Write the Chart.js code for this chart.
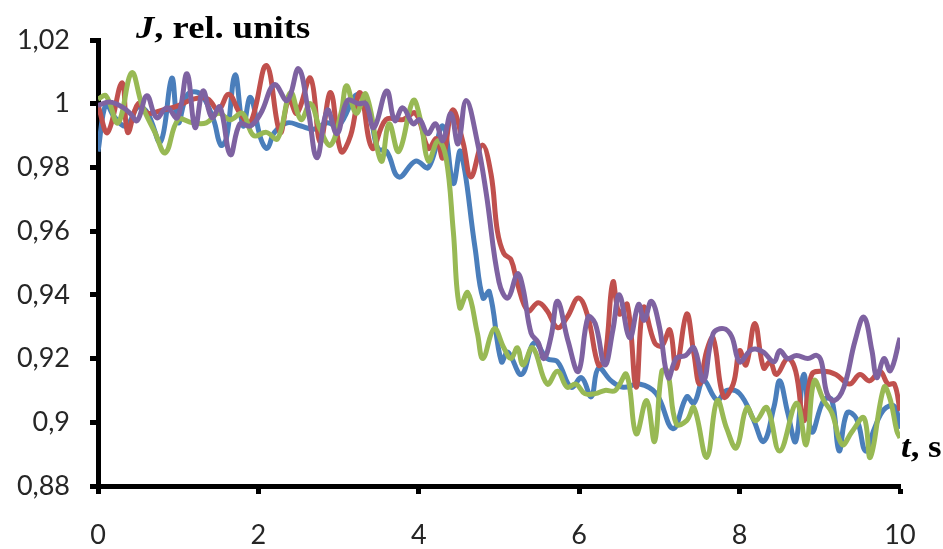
<!DOCTYPE html>
<html>
<head>
<meta charset="utf-8">
<script src="https://cdn.jsdelivr.net/npm/chart.js@4.4.1/dist/chart.umd.min.js"></script>
<style>
  html, body { margin: 0; padding: 0; background: #fff; }
  #wrap { position: relative; width: 943px; height: 549px; overflow: hidden; }
  .axisName {
    position: absolute;
    font-family: "Liberation Serif", serif;
    font-weight: bold;
    font-size: 31px;
    line-height: 31px;
    color: #000;
    white-space: nowrap;
    transform: scaleX(1.18);
    transform-origin: 0 0;
  }
  #yName { left: 136px; top: 12px; }
  #xName { left: 901px; top: 431px; transform: scaleX(1.12); }
</style>
</head>
<body>
<div id="wrap">
  <canvas id="chart" width="943" height="549"></canvas>
  <div class="axisName" id="yName"><i>J</i>, rel. units</div>
  <div class="axisName" id="xName"><i>t</i>, s</div>
</div>
<script>
// J(t) curves, [time in s, relative units]
const blueCurve = [
  [0, 0.985], [0.1, 1.0], [0.2, 0.996], [0.35, 0.993], [0.5, 0.999], [0.62, 0.997], [0.78, 0.988],
  [0.92, 1.008], [1.0, 0.994], [1.12, 1.003], [1.28, 1.003], [1.44, 0.995], [1.53, 0.987], [1.6, 0.989],
  [1.71, 1.009], [1.81, 0.993], [1.9, 1.002], [2.03, 0.989], [2.11, 0.986], [2.2, 0.991], [2.36, 0.994],
  [2.53, 0.993], [2.69, 0.992], [2.86, 0.994], [3.0, 0.993], [3.24, 1.003], [3.4, 0.995], [3.49, 0.986],
  [3.6, 0.985], [3.75, 0.977], [3.96, 0.982], [4.12, 0.980], [4.3, 0.993], [4.43, 0.975], [4.52, 0.985],
  [4.7, 0.955], [4.8, 0.939], [4.88, 0.941], [5.03, 0.919], [5.11, 0.922], [5.28, 0.915], [5.44, 0.925],
  [5.6, 0.920], [5.73, 0.919], [5.9, 0.911], [6.03, 0.914], [6.15, 0.908], [6.24, 0.917], [6.4, 0.913],
  [6.55, 0.911], [6.75, 0.912], [6.96, 0.909], [7.17, 0.898], [7.34, 0.908], [7.43, 0.906], [7.55, 0.913],
  [7.72, 0.907], [7.84, 0.910], [8.0, 0.909], [8.17, 0.901], [8.3, 0.894], [8.43, 0.905], [8.5, 0.913],
  [8.6, 0.903], [8.7, 0.894], [8.8, 0.915], [8.9, 0.897], [9.05, 0.907], [9.15, 0.907], [9.24, 0.891],
  [9.34, 0.903], [9.46, 0.901], [9.57, 0.891], [9.68, 0.898], [9.8, 0.904], [9.93, 0.905], [10, 0.898]
];

const redCurve = [
  [0, 0.9995], [0.12, 0.991], [0.3, 1.0066], [0.37, 0.991], [0.5, 1.0], [0.62, 0.997], [0.8, 0.998],
  [0.96, 0.999], [1.2, 1.0015], [1.37, 1.0015], [1.5, 0.998], [1.63, 1.003], [1.77, 0.997], [1.9, 0.994],
  [2.1, 1.012], [2.27, 0.991], [2.38, 1.0015], [2.48, 0.997], [2.65, 1.008], [2.77, 0.988], [2.9, 1.0035],
  [3.03, 0.985], [3.15, 0.990], [3.27, 1.0035], [3.42, 0.986], [3.59, 0.995], [3.8, 0.995], [3.96, 0.997],
  [4.12, 0.986], [4.22, 0.989], [4.3, 0.983], [4.42, 0.998], [4.55, 0.988], [4.65, 0.977], [4.79, 0.987],
  [4.9, 0.978], [4.98, 0.960], [5.06, 0.953], [5.15, 0.951], [5.23, 0.9435], [5.36, 0.935], [5.49, 0.9375],
  [5.6, 0.935], [5.73, 0.9297], [5.85, 0.933], [5.99, 0.939], [6.11, 0.933], [6.24, 0.918], [6.32, 0.920],
  [6.42, 0.944], [6.5, 0.934], [6.6, 0.937], [6.71, 0.911], [6.8, 0.936], [6.94, 0.925], [7.03, 0.924],
  [7.13, 0.929], [7.21, 0.917], [7.34, 0.934], [7.43, 0.9215], [7.5, 0.912], [7.59, 0.9225], [7.67, 0.9265],
  [7.8, 0.908], [7.92, 0.912], [8.0, 0.9225], [8.08, 0.918], [8.19, 0.931], [8.3, 0.917], [8.38, 0.919],
  [8.46, 0.915], [8.6, 0.920], [8.7, 0.916], [8.8, 0.9005], [8.9, 0.915], [9.05, 0.916], [9.2, 0.915],
  [9.37, 0.912], [9.5, 0.915], [9.62, 0.913], [9.75, 0.916], [9.85, 0.912], [9.93, 0.912], [10, 0.9036]
];

const greenCurve = [
  [0, 1.0015], [0.1, 1.0025], [0.25, 0.994], [0.42, 1.0097], [0.55, 0.9995], [0.71, 0.991], [0.84, 0.9846],
  [1.0, 0.995], [1.18, 0.994], [1.35, 0.994], [1.5, 0.997], [1.65, 0.995], [1.8, 0.997], [1.94, 0.990],
  [2.1, 0.991], [2.24, 0.989], [2.4, 1.0035], [2.53, 0.995], [2.65, 1.0], [2.77, 0.992], [2.9, 0.987],
  [3.03, 0.997], [3.1, 1.0056], [3.22, 0.997], [3.34, 1.003], [3.53, 0.982], [3.63, 0.9937], [3.75, 0.985],
  [3.93, 1.001], [4.02, 0.995], [4.12, 0.982], [4.24, 0.9884], [4.34, 0.983], [4.43, 0.960], [4.51, 0.936],
  [4.61, 0.9407], [4.73, 0.928], [4.8, 0.920], [4.94, 0.9294], [5.06, 0.9234], [5.15, 0.920], [5.23, 0.9234],
  [5.3, 0.918], [5.42, 0.9234], [5.6, 0.912], [5.73, 0.916], [5.85, 0.911], [5.96, 0.912], [6.07, 0.909],
  [6.2, 0.909], [6.32, 0.910], [6.45, 0.910], [6.59, 0.915], [6.71, 0.8964], [6.84, 0.9068], [6.94, 0.894],
  [7.03, 0.916], [7.1, 0.916], [7.21, 0.8995], [7.34, 0.9005], [7.43, 0.9046], [7.59, 0.889], [7.72, 0.9068],
  [7.84, 0.898], [7.96, 0.892], [8.09, 0.9046], [8.2, 0.9005], [8.34, 0.9046], [8.5, 0.891], [8.71, 0.906],
  [8.83, 0.893], [8.93, 0.913], [9.05, 0.9068], [9.15, 0.903], [9.28, 0.893], [9.4, 0.897], [9.55, 0.9014],
  [9.63, 0.889], [9.8, 0.911], [9.88, 0.907], [9.96, 0.8973], [10, 0.8951]
];

const purpleCurve = [
  [0, 0.9995], [0.15, 1.0005], [0.3, 0.999], [0.4, 0.997], [0.49, 0.9947], [0.61, 1.0025], [0.73, 0.9956],
  [0.86, 0.9987], [0.99, 0.9956], [1.11, 1.0094], [1.21, 0.9925], [1.31, 1.004], [1.42, 0.9956], [1.52, 0.999],
  [1.65, 0.984], [1.77, 0.9937], [1.9, 0.993], [2.03, 0.997], [2.2, 1.006], [2.36, 1.001], [2.5, 1.011],
  [2.62, 0.998], [2.73, 0.983], [2.86, 0.998], [2.98, 0.9906], [3.11, 1.001], [3.25, 1.0], [3.34, 1.0],
  [3.44, 0.9925], [3.6, 1.004], [3.7, 0.9947], [3.8, 0.9987], [3.93, 0.9937], [4.01, 0.995], [4.11, 0.9906],
  [4.21, 0.9937], [4.3, 0.9884], [4.4, 0.9969], [4.49, 0.9874], [4.59, 1.001], [4.73, 0.988], [4.84, 0.972],
  [5.0, 0.944], [5.11, 0.939], [5.23, 0.9466], [5.3, 0.942], [5.4, 0.928], [5.49, 0.925], [5.56, 0.920],
  [5.65, 0.927], [5.73, 0.938], [5.86, 0.9256], [5.99, 0.916], [6.11, 0.933], [6.2, 0.931], [6.32, 0.918],
  [6.42, 0.929], [6.5, 0.940], [6.63, 0.9265], [6.74, 0.937], [6.81, 0.932], [6.9, 0.938], [7.0, 0.930],
  [7.11, 0.914], [7.21, 0.920], [7.33, 0.921], [7.43, 0.9234], [7.55, 0.913], [7.67, 0.9278], [7.8, 0.9294],
  [7.9, 0.927], [8.0, 0.919], [8.13, 0.9225], [8.2, 0.923], [8.3, 0.922], [8.43, 0.919], [8.5, 0.9225],
  [8.6, 0.920], [8.71, 0.921], [8.85, 0.920], [8.96, 0.921], [9.02, 0.919], [9.09, 0.909], [9.18, 0.9068],
  [9.3, 0.911], [9.44, 0.9256], [9.55, 0.933], [9.65, 0.9225], [9.71, 0.914], [9.8, 0.920], [9.88, 0.9162],
  [10, 0.9265]
];

// axis ranges and tick steps
const tRange = [0, 10];
const tStep = 2;
const jRange = [0.88, 1.02];
const jStep = 0.02;

// first entry is drawn on top
const curves = [
  { points: purpleCurve, color: '#7e62a1' },
  { points: greenCurve, color: '#98b954' },
  { points: redCurve, color: '#c0504d' },
  { points: blueCurve, color: '#4a7ebb' }
];

// decimal comma, no trailing zeros: 1, 0,9, 0,98
const commaLabel = v => String(Math.round(v * 100) / 100).replace('.', ',');

const tickFont = { family: 'Lato', size: 27 };

new Chart(document.getElementById('chart'), {
  type: 'line',
  data: {
    datasets: curves.map(c => ({
      data: c.points.map(([t, j]) => ({ x: t, y: j })),
      borderColor: c.color,
      borderWidth: 5,
      pointRadius: 0,
      tension: 0.4,
      fill: false
    }))
  },
  options: {
    responsive: false,
    animation: false,
    devicePixelRatio: 1,
    layout: { padding: { top: 40, right: 43, left: 0, bottom: 0 } },
    plugins: {
      legend: { display: false },
      tooltip: { enabled: false }
    },
    scales: {
      x: {
        type: 'linear',
        min: tRange[0],
        max: tRange[1],
        ticks: {
          stepSize: tStep,
          color: '#262626',
          font: tickFont,
          padding: 25,
          maxRotation: 0,
          callback: commaLabel
        },
        grid: { drawOnChartArea: false, tickLength: 8, tickWidth: 5, tickColor: '#000' },
        border: { color: '#000', width: 5 },
        afterFit: s => { s.height = 63; }
      },
      y: {
        min: jRange[0],
        max: jRange[1],
        ticks: {
          stepSize: jStep,
          color: '#262626',
          font: tickFont,
          padding: 20,
          callback: commaLabel
        },
        grid: { drawOnChartArea: false, tickLength: 8, tickWidth: 5, tickColor: '#000' },
        border: { color: '#000', width: 5 },
        afterFit: s => { s.width = 98; }
      }
    }
  }
});
</script>
</body>
</html>
